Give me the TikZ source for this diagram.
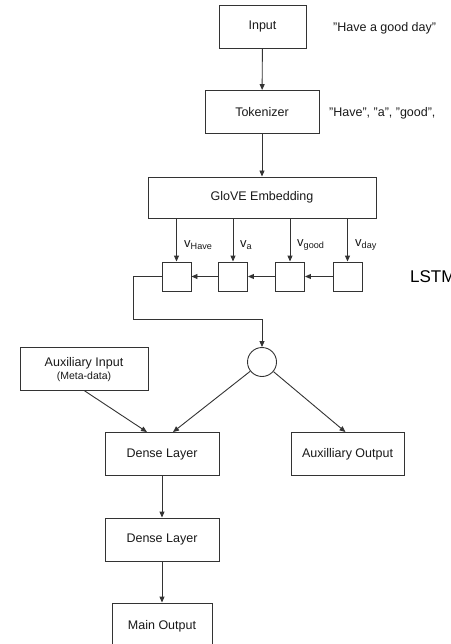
\documentclass[tikz,border=0pt]{standalone}
\usepackage{fontspec}
\setmainfont{Liberation Sans}
\usetikzlibrary{arrows.meta,calc}

\tikzset{
  box/.style={draw=black!80, line width=0.9pt, minimum width=#1, minimum height=43pt,
              inner sep=0pt, font=\fontsize{12.5}{14}\selectfont, text=black!90},
  box/.default=114pt,
  cell/.style={draw=black!80, line width=0.9pt, minimum size=29pt, inner sep=0pt},
  arr/.style={draw=black!80, line width=0.9pt, -{Triangle[length=6pt,width=5pt]}},
  plain/.style={draw=black!80, line width=0.9pt},
  note/.style={font=\fontsize{12.5}{14}\selectfont, text=black!90, inner sep=0pt},
  vlab/.style={font=\fontsize{13}{14}\selectfont, text=black!90, inner sep=0pt, anchor=west},
}

\begin{document}
\begin{tikzpicture}[x=1pt, y=-1pt]
  \useasboundingbox (0,0) rectangle (450,644);
  \clip (0,0) rectangle (450,644);

  % main column
  \node[box=87pt]  (inp) at (262.5,26.5) {Input};
  \node[box=114pt] (tok) at (262,112) {Tokenizer};
  \node[box=228pt, minimum height=41pt] (emb) at (262,197.5) {GloVE Embedding};

  % example text
  \node[note, anchor=west] (s1) at (333,28) {"Have a good day"};
  \node[note, anchor=west] (s2) at (329,113) {"Have", "a", "good",};

  % recurrent cells
  \node[cell] (l1) at (176.5,276.5) {};
  \node[cell] (l2) at (233,276.5) {};
  \node[cell] (l3) at (290,276.5) {};
  \node[cell] (l4) at (347.5,276.5) {};
  \node[font=\fontsize{17}{18}\selectfont, text=black, inner sep=0pt, anchor=base west]
    (lstm) at (410,282) {LSTM};

  % word vector labels
  \node[vlab] (v1) at (184,245) {v\textsubscript{Have}};
  \node[vlab] (v2) at (240,245) {v\textsubscript{a}};
  \node[vlab] (v3) at (297,245) {v\textsubscript{good}};
  \node[vlab] (v4) at (355,245) {v\textsubscript{day}};

  % merge point
  \node[draw=black!80, line width=0.9pt, circle, minimum size=29pt, inner sep=0pt]
    (mrg) at (262,362) {};
  \coordinate (bend) at (133,319);

  % lower part
  \node[box=128pt] (aux) at (84,368.5) {};
  \node[note, align=center] (auxt) at (84,370)
    {Auxiliary Input\\[-1pt]{\fontsize{10.5}{12}\selectfont (Meta-data)}};
  \node[box=114pt] (d1) at (162,454) {Dense Layer};
  \node[box=113pt] (aout) at (347.5,454) {Auxilliary Output};
  \node[box=114pt] (d2) at (162,539.5) {Dense Layer};
  \node[box=100pt] (mout) at (162,624.5) {};
  \node[note] (moutt) at (162,626) {Main Output};

  % connectors
  \draw[arr] (inp) -- (tok);
  \draw[arr] (tok) -- (emb);
  \foreach \c in {l1,l2,l3,l4} \draw[arr] (\c |- emb.south) -- (\c.north);
  \draw[arr] (l4) -- (l3);
  \draw[arr] (l3) -- (l2);
  \draw[arr] (l2) -- (l1);
  \draw[plain] (l1.west) -| (bend);
  \draw[arr] (bend) -| (mrg.north);
  \draw[arr] (aux.south) -- ([xshift=-15pt]d1.north);
  \draw[arr] (mrg) -- ([xshift=11pt]d1.north);
  \draw[arr] (mrg) -- ([xshift=-2pt]aout.north);
  \draw[arr] (d1) -- (d2);
  \draw[arr] (d2) -- (mout);
\end{tikzpicture}
\end{document}
